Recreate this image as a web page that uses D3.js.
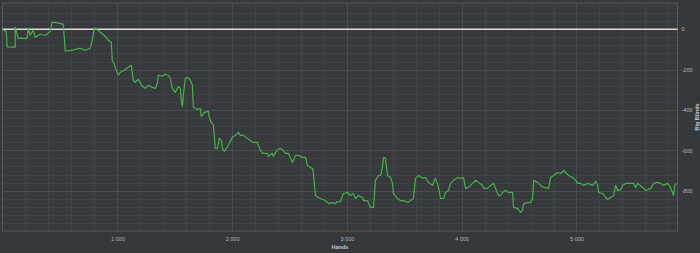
<!DOCTYPE html>
<html>
<head>
<meta charset="utf-8">
<script src="https://cdn.jsdelivr.net/npm/d3@7"></script>
<style>
    html, body { margin: 0; padding: 0; background: #36393c; }
    svg { display: block; }
    .tick-label { fill: #b4b6b8; font-family: "Liberation Sans", Arial, sans-serif; font-size: 5.5px; }
    .axis-title { fill: #c8cacc; font-family: "Liberation Sans", Arial, sans-serif; font-size: 5.5px; font-weight: bold; }
</style>
</head>
<body>
<svg id="graph" width="700" height="253"></svg>
<script>
// cumulative winnings
const hands = [0, 32, 41, 111, 111, 137, 215, 224, 241, 268, 285, 329, 372, 398, 416, 433, 486, 529, 547, 608,
    677, 721, 765, 782, 800, 817, 852, 895, 922, 948, 956, 974, 991, 1009, 1026, 1061, 1096, 1122, 1139, 1157,
    1183, 1218, 1244, 1270, 1305, 1331, 1349, 1357, 1392, 1418, 1444, 1462, 1479, 1505, 1532, 1549, 1558, 1567, 1575, 1593,
    1610, 1636, 1654, 1662, 1697, 1723, 1732, 1758, 1793, 1802, 1819, 1837, 1854, 1872, 1889, 1907, 1915, 1933, 1950, 1976,
    2002, 2028, 2055, 2072, 2098, 2133, 2159, 2186, 2220, 2247, 2264, 2308, 2316, 2351, 2360, 2395, 2421, 2447, 2465, 2491,
    2525, 2552, 2578, 2613, 2639, 2656, 2683, 2700, 2709, 2726, 2752, 2787, 2813, 2840, 2874, 2900, 2918, 2944, 2970, 3005,
    3031, 3057, 3075, 3101, 3136, 3145, 3179, 3206, 3232, 3249, 3276, 3293, 3310, 3319, 3336, 3354, 3380, 3397, 3406, 3441,
    3467, 3493, 3528, 3554, 3580, 3598, 3624, 3659, 3685, 3711, 3746, 3755, 3772, 3798, 3816, 3842, 3859, 3885, 3903, 3929,
    3964, 3990, 4016, 4034, 4060, 4121, 4147, 4182, 4191, 4225, 4252, 4278, 4295, 4321, 4339, 4356, 4382, 4409, 4443, 4452,
    4487, 4513, 4531, 4539, 4574, 4600, 4618, 4627, 4661, 4688, 4714, 4757, 4775, 4801, 4836, 4862, 4888, 4914, 4932, 4967,
    4993, 5010, 5036, 5062, 5097, 5141, 5167, 5185, 5193, 5228, 5254, 5272, 5298, 5324, 5341, 5359, 5385, 5402, 5428, 5472,
    5498, 5515, 5533, 5577, 5603, 5646, 5672, 5707, 5733, 5759, 5794, 5820, 5846, 5855, 5872];
const bigBlinds = [-1, -13, -88, -89, 10, -45, -45, 5, -30, -5, -40, -25, -30, -20, -10, 35, 30, 25, -109, -104,
    -94, -104, -94, -55, 5, 0, -15, -35, -55, -65, -154, -174, -203, -228, -213, -203, -189, -179, -253, -263,
    -248, -283, -293, -278, -288, -293, -268, -228, -233, -223, -228, -243, -293, -313, -283, -293, -352, -382, -328, -243,
    -238, -253, -278, -387, -397, -392, -432, -412, -407, -437, -462, -476, -591, -591, -541, -551, -591, -605, -591, -566,
    -536, -526, -511, -526, -526, -541, -551, -561, -561, -601, -615, -615, -630, -615, -630, -596, -591, -601, -615, -615,
    -660, -625, -625, -635, -635, -675, -685, -690, -715, -824, -834, -844, -849, -864, -859, -864, -854, -854, -814, -809,
    -824, -814, -839, -824, -834, -849, -849, -883, -883, -749, -725, -725, -685, -635, -640, -725, -735, -764, -814, -839,
    -849, -849, -859, -849, -839, -739, -725, -739, -735, -759, -774, -759, -739, -784, -839, -839, -809, -799, -764, -749,
    -735, -739, -735, -789, -784, -749, -759, -774, -789, -789, -774, -764, -789, -824, -824, -809, -799, -809, -809, -883,
    -888, -908, -898, -864, -859, -859, -839, -749, -759, -774, -784, -789, -735, -725, -710, -715, -700, -715, -725, -735,
    -749, -764, -764, -774, -764, -774, -754, -774, -809, -814, -834, -844, -834, -824, -774, -799, -794, -774, -764, -764,
    -764, -784, -764, -784, -799, -789, -764, -759, -764, -774, -764, -784, -824, -774, -764];

const xTicks = [1000, 2000, 3000, 4000, 5000];
const yTicks = [0, -200, -400, -600, -800];
const xDomain = [0, 5880];
const yDomain = [-1000, 130];

const svg = d3.select("#graph");
const plot = { left: 2.5, right: 677.5, top: 3, bottom: 231 };

const x = d3.scaleLinear().domain(xDomain).range([plot.left, plot.right]);
const y = d3.scaleLinear().domain(yDomain).range([plot.bottom, plot.top]);

const fmt = v => d3.format(",")(v).replace(/,/g, " ");

svg.append("rect")
    .attr("x", plot.left).attr("y", plot.top)
    .attr("width", plot.right - plot.left).attr("height", plot.bottom - plot.top)
    .attr("fill", "#37393c");

// minor grid
const grid = svg.append("g");
grid.selectAll(".vminor")
    .data(d3.range(200, xDomain[1], 200))
    .join("line")
    .attr("x1", d => Math.round(x(d)) + 0.5).attr("x2", d => Math.round(x(d)) + 0.5)
    .attr("y1", plot.top).attr("y2", plot.bottom)
    .attr("stroke", "#3f4346").attr("stroke-width", 1);
grid.selectAll(".hminor")
    .data(d3.range(-960, 130, 40))
    .join("line")
    .attr("x1", plot.left).attr("x2", plot.right)
    .attr("y1", d => Math.round(y(d)) + 0.5).attr("y2", d => Math.round(y(d)) + 0.5)
    .attr("stroke", "#3f4346").attr("stroke-width", 1);

// major grid
grid.selectAll(".vmajor")
    .data(xTicks)
    .join("line")
    .attr("x1", d => Math.round(x(d)) + 0.5).attr("x2", d => Math.round(x(d)) + 0.5)
    .attr("y1", plot.top).attr("y2", plot.bottom)
    .attr("stroke", "#4a4e52").attr("stroke-width", 1);
grid.selectAll(".hmajor")
    .data(yTicks)
    .join("line")
    .attr("x1", plot.left).attr("x2", plot.right)
    .attr("y1", d => Math.round(y(d)) + 0.5).attr("y2", d => Math.round(y(d)) + 0.5)
    .attr("stroke", "#4a4e52").attr("stroke-width", 1);

// frame
svg.append("rect")
    .attr("x", plot.left).attr("y", plot.top)
    .attr("width", plot.right - plot.left).attr("height", plot.bottom - plot.top)
    .attr("fill", "none")
    .attr("stroke", "#55595d").attr("stroke-width", 1);

// zero line
svg.append("line")
    .attr("x1", plot.left).attr("x2", plot.right)
    .attr("y1", y(0)).attr("y2", y(0))
    .attr("stroke", "#dcdcdc").attr("stroke-width", 1.6);

// winnings line
const points = hands.map((h, i) => [h, bigBlinds[i]]);
svg.append("path")
    .datum(points)
    .attr("fill", "none")
    .attr("stroke", "#42b448")
    .attr("stroke-width", 1.2)
    .attr("stroke-linejoin", "round")
    .attr("d", d3.line().x(d => x(d[0])).y(d => y(d[1])));

// axes
const xAxis = svg.append("g")
    .attr("transform", `translate(0,${plot.bottom})`)
    .call(d3.axisBottom(x).tickValues(xTicks).tickFormat(fmt).tickSize(0).tickPadding(6));
const yAxis = svg.append("g")
    .attr("transform", `translate(${plot.right},0)`)
    .call(d3.axisRight(y).tickValues(yTicks).tickFormat(d => d).tickSize(0).tickPadding(4));
[xAxis, yAxis].forEach(a => {
    a.select(".domain").remove();
    a.selectAll("text").attr("class", "tick-label").attr("fill", null);
});

svg.append("text")
    .attr("class", "axis-title")
    .attr("x", 340).attr("y", 249)
    .attr("text-anchor", "middle")
    .text("Hands");

svg.append("text")
    .attr("class", "axis-title")
    .attr("transform", `translate(698.5,117) rotate(-90)`)
    .attr("text-anchor", "middle")
    .text("Big Blinds");
</script>
</body>
</html>
